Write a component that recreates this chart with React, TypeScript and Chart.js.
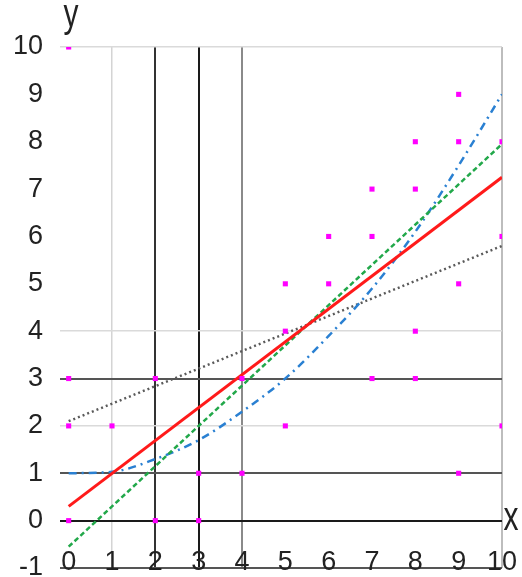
import React, { useEffect, useRef } from 'react';
import { Chart, registerables } from 'chart.js';

Chart.register(...registerables);

// ---- data ----
const xTickValues = [0, 1, 2, 3, 4, 5, 6, 7, 8, 9, 10];
const yTickValues = [-1, 0, 1, 2, 3, 4, 5, 6, 7, 8, 9, 10];

const pointsX = [0, 0, 0, 0, 1, 2, 2, 3, 3, 4, 4, 5, 5, 5, 6, 6, 7, 7, 7, 8, 8, 8, 8, 9, 9, 9, 9, 10, 10, 10];
const pointsY = [10, 3, 2, 0, 2, 3, 0, 1, 0, 3, 1, 5, 4, 2, 6, 5, 7, 6, 3, 8, 7, 4, 3, 9, 8, 5, 1, 8, 6, 2];

const redX = [0, 10];
const redY = [0.3, 7.25];

const greenX = [0, 10];
const greenY = [-0.55, 7.95];

const grayX = [0, 10];
const grayY = [2.1, 5.8];

const blueX = [0, 1, 2, 3, 4, 5, 6, 7, 8, 9, 10];
const blueY = [1.0, 1.03, 1.3, 1.7, 2.3, 3.0, 3.9, 4.9, 6.1, 7.5, 9.0];

const axisNameX = 'x';
const axisNameY = 'y';

// ---- helpers ----
const toXY = (xs: number[], ys: number[]) => xs.map((x, i) => ({ x, y: ys[i] }));

function hasNarrow(): boolean {
  const c = document.createElement('canvas').getContext('2d');
  if (!c) return false;
  c.font = '40px "Liberation Sans Narrow", monospace';
  const a = c.measureText('1010xy').width;
  c.font = '40px monospace';
  const b = c.measureText('1010xy').width;
  return Math.abs(a - b) > 1;
}

function yGridStyle(v: number): [string, number] {
  if (v === 0) return ['#1a1a1a', 2];
  if (v === 1 || v === 3 || v === -1) return ['#555555', 2];
  if (v === 2 || v === 4 || v === 10) return ['#dadada', 1.5];
  return ['rgba(0,0,0,0)', 1];
}

function xGridStyle(v: number): [string, number] {
  if (v === 3) return ['#1a1a1a', 2];
  if (v === 2) return ['#333333', 2];
  if (v === 4) return ['#8a8a8a', 2];
  if (v === 1) return ['#d4d4d4', 1.5];
  if (v === 10) return ['#bdbdbd', 2];
  return ['rgba(0,0,0,0)', 1];
}

const axisLetters = {
  id: 'axisLetters',
  afterDraw(chart: any) {
    const ctx = chart.ctx as CanvasRenderingContext2D;
    ctx.save();
    ctx.fillStyle = '#222';
    ctx.font = '30px "Liberation Sans", Arial, sans-serif';
    ctx.textAlign = 'center';
    ctx.textBaseline = 'alphabetic';
    ctx.save();
    ctx.translate(71, 27);
    ctx.scale(1, 1.35);
    ctx.fillText(axisNameY, 0, 0);
    ctx.restore();
    ctx.save();
    ctx.translate(511, 530);
    ctx.scale(1, 1.35);
    ctx.fillText(axisNameX, 0, 0);
    ctx.restore();
    ctx.restore();
  },
};

export default function App() {
  const ref = useRef<HTMLCanvasElement | null>(null);

  useEffect(() => {
    if (!ref.current) return;
    const narrow = hasNarrow();
    const tickFont = narrow
      ? { family: '"Liberation Sans Narrow"', size: 31, lineHeight: 1 }
      : { family: '"Liberation Sans", Arial, sans-serif', size: 27, lineHeight: 1 };

    const chart = new Chart(ref.current, {
      type: 'scatter',
      data: {
        datasets: [
          {
            label: 'points',
            data: toXY(pointsX, pointsY),
            showLine: false,
            pointStyle: 'rect',
            pointRadius: 3.6,
            pointBorderWidth: 0,
            backgroundColor: '#ff00ff',
            borderColor: '#ff00ff',
          },
          {
            label: 'red',
            data: toXY(redX, redY),
            showLine: true,
            borderColor: '#ff1a1a',
            borderWidth: 3,
            pointRadius: 0,
          },
          {
            label: 'green',
            data: toXY(greenX, greenY),
            showLine: true,
            borderColor: '#22a84a',
            borderWidth: 2.5,
            borderDash: [5, 3],
            pointRadius: 0,
          },
          {
            label: 'blue',
            data: toXY(blueX, blueY),
            showLine: true,
            borderColor: '#2a80d2',
            borderWidth: 2.5,
            borderDash: [8, 5, 2, 5],
            cubicInterpolationMode: 'monotone',
            pointRadius: 0,
          },
          {
            label: 'gray',
            data: toXY(grayX, grayY),
            showLine: true,
            borderColor: '#5a5a5a',
            borderWidth: 2.5,
            borderDash: [2, 3],
            pointRadius: 0,
          },
        ],
      },
      options: {
        animation: false,
        responsive: false,
        events: [],
        layout: { padding: { top: 47, right: 20, bottom: 9, left: 0 } },
        plugins: {
          legend: { display: false },
          tooltip: { enabled: false },
        },
        scales: {
          x: {
            type: 'linear',
            min: -0.2,
            max: 10,
            position: { y: -0.6 } as any,
            afterBuildTicks: (scale: any) => {
              scale.ticks = xTickValues.map((v) => ({ value: v }));
            },
            afterFit: (scale: any) => {
              scale.paddingLeft = 0;
              scale.paddingRight = 0;
              scale.paddingTop = 0;
              scale.paddingBottom = 0;
            },
            border: { display: false },
            grid: {
              drawTicks: false,
              color: (c: any) => xGridStyle(c.tick.value)[0],
              lineWidth: (c: any) => xGridStyle(c.tick.value)[1],
            },
            ticks: {
              padding: 0,
              color: '#222',
              font: tickFont,
              maxRotation: 0,
              autoSkip: false,
              callback: (v: any) => String(v),
            },
          },
          y: {
            type: 'linear',
            min: -1,
            max: 10,
            position: 'left',
            afterBuildTicks: (scale: any) => {
              scale.ticks = yTickValues.map((v) => ({ value: v }));
            },
            afterFit: (scale: any) => {
              scale.width = 60;
              scale.paddingTop = 0;
              scale.paddingBottom = 0;
              scale.paddingLeft = 0;
              scale.paddingRight = 0;
            },
            border: { display: false },
            grid: {
              drawTicks: false,
              color: (c: any) => yGridStyle(c.tick.value)[0],
              lineWidth: (c: any) => yGridStyle(c.tick.value)[1],
            },
            ticks: {
              padding: 17,
              color: '#222',
              font: tickFont,
              autoSkip: false,
              callback: (v: any) => String(v),
            },
          },
        },
      },
      plugins: [axisLetters],
    } as any);

    return () => chart.destroy();
  }, []);

  return (
    <div
      style={{
        position: 'fixed',
        left: 0,
        top: 0,
        width: 522,
        height: 577,
        overflow: 'hidden',
        background: '#fff',
      }}
    >
      <canvas ref={ref} width={522} height={577} style={{ display: 'block' }} />
    </div>
  );
}
